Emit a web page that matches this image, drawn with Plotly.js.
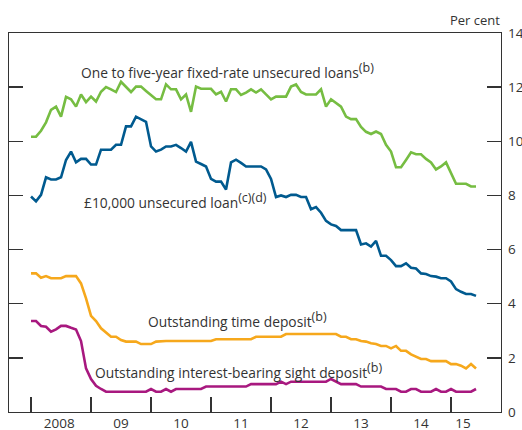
<!DOCTYPE html>
<html>
<head>
<meta charset="utf-8">
<script src="https://cdn.plot.ly/plotly-3.0.1.min.js"></script>
<style>html,body{margin:0;padding:0;background:#fff;}#chart{width:522px;height:430px;}</style>
</head>
<body>
<div id="chart"></div>
<script>
// Monthly observations, January 2008 to June 2015 (per cent)
var startYear = 2008;
var fixedRateLoans = [10.17,10.17,10.39,10.70,11.16,11.28,10.91,11.64,11.55,11.28,11.73,11.45,11.65,11.47,11.83,12.00,11.92,11.82,12.20,12.02,11.82,12.02,12.02,11.86,11.71,11.55,11.55,12.10,11.92,11.92,11.55,11.73,11.09,12.02,11.94,11.94,11.94,11.73,11.83,11.47,11.92,11.92,11.71,11.80,11.92,11.80,11.92,11.73,11.55,11.65,11.65,11.65,12.02,12.10,11.82,11.73,11.73,11.73,11.92,11.28,11.55,11.43,11.28,10.91,10.82,10.82,10.53,10.35,10.27,10.36,10.27,9.87,9.62,9.04,9.04,9.31,9.59,9.52,9.52,9.35,9.22,8.96,9.07,9.22,8.80,8.43,8.43,8.43,8.33,8.33];
var unsecuredLoan = [7.96,7.78,8.02,8.67,8.59,8.59,8.67,9.31,9.62,9.22,9.35,9.35,9.14,9.14,9.69,9.69,9.69,9.87,9.87,10.55,10.55,10.91,10.82,10.72,9.81,9.62,9.69,9.81,9.81,9.87,9.75,9.62,9.98,9.25,9.16,9.07,8.61,8.51,8.51,8.22,9.22,9.32,9.20,9.07,9.07,9.07,9.07,8.96,8.61,7.94,8.00,7.94,8.02,8.02,7.94,7.94,7.49,7.57,7.36,7.06,6.93,6.87,6.72,6.72,6.72,6.72,6.19,6.23,6.11,6.32,5.77,5.77,5.61,5.39,5.39,5.49,5.33,5.30,5.12,5.10,5.02,5.00,4.94,4.94,4.82,4.54,4.44,4.36,4.36,4.29];
var timeDeposit = [5.12,5.12,4.96,5.02,4.94,4.94,4.94,5.02,5.02,5.02,4.75,4.20,3.55,3.36,3.09,2.94,2.78,2.78,2.66,2.60,2.60,2.60,2.51,2.51,2.51,2.60,2.62,2.62,2.62,2.62,2.62,2.62,2.62,2.62,2.62,2.62,2.62,2.69,2.69,2.69,2.69,2.69,2.69,2.69,2.69,2.78,2.78,2.78,2.78,2.78,2.78,2.88,2.88,2.88,2.88,2.88,2.88,2.88,2.88,2.88,2.88,2.88,2.78,2.78,2.69,2.69,2.62,2.60,2.54,2.51,2.44,2.44,2.35,2.44,2.26,2.26,2.13,2.04,1.96,1.96,1.88,1.88,1.88,1.88,1.77,1.77,1.71,1.61,1.77,1.61];
var sightDeposit = [3.36,3.36,3.18,3.15,2.97,3.05,3.18,3.18,3.11,3.05,2.62,1.61,1.22,0.97,0.85,0.75,0.75,0.75,0.75,0.75,0.75,0.75,0.75,0.75,0.85,0.75,0.75,0.85,0.75,0.85,0.85,0.85,0.85,0.85,0.85,0.94,0.94,0.94,0.94,0.94,0.94,0.94,0.94,0.94,1.03,1.03,1.03,1.03,1.03,1.03,1.12,1.03,1.12,1.12,1.12,1.12,1.12,1.12,1.12,1.12,1.22,1.12,1.03,1.03,1.03,1.03,0.94,0.94,0.94,0.94,0.94,0.85,0.85,0.85,0.75,0.75,0.85,0.85,0.75,0.75,0.75,0.85,0.75,0.75,0.85,0.75,0.75,0.75,0.75,0.85];
var yearTicks = [2008,2009,2010,2011,2012,2013,2014,2015];
var yearLabelPos = [2008.47,2009.5,2010.5,2011.5,2012.5,2013.5,2014.5,2015.2];
var yearLabels = ['2008','09','10','11','12','13','14','15'];
var yTicks = [0,2,4,6,8,10,12,14];

var months = fixedRateLoans.map(function(_, i){ return startYear + i/12; });

var FONT = '"Open Sans", "Noto Sans", sans-serif';
var TXT = '#333333';
function sup(s){ return '<sup><span style="font-size:12.5px">' + s + '</span></sup>'; }
function line(y, color){
  return {x: months, y: y, type:'scatter', mode:'lines', hoverinfo:'skip',
          line:{color:color, width:2.6, shape:'linear'}, showlegend:false};
}
var traces = [
  line(fixedRateLoans, '#76bd42'),
  line(unsecuredLoan, '#005a8f'),
  line(timeDeposit, '#f6a81c'),
  line(sightDeposit, '#a8187f')
];
var xr = [2007.633, 2015.833];
var layout = {
  width:522, height:430,
  margin:{l:9, r:21, t:33, b:18, pad:0},
  paper_bgcolor:'#ffffff', plot_bgcolor:'#ffffff',
  font:{family:FONT, size:13.8, color:TXT},
  showlegend:false,
  xaxis:{range:xr, tickvals:yearTicks, showticklabels:false, ticks:'inside', ticklen:15, tickwidth:1.3, tickcolor:'#333',
         showline:true, linecolor:'#333', linewidth:1.3, mirror:true, showgrid:false, zeroline:false, fixedrange:true},
  xaxis2:{range:xr, overlaying:'x', side:'bottom', tickvals:yearLabelPos, ticktext:yearLabels, ticks:'', showline:false,
          showgrid:false, zeroline:false, ticklabelstandoff:1, tickfont:{family:FONT, size:13.5, color:TXT}, fixedrange:true},
  yaxis:{range:[0,14], side:'right', tickvals:yTicks, ticks:'inside', ticklen:14, tickwidth:1.3, tickcolor:'#333',
         showline:true, linecolor:'#333', linewidth:1.3, mirror:'ticks', showgrid:false, zeroline:false, ticklabelstandoff:3,
         tickfont:{family:FONT, size:13.5, color:TXT}, fixedrange:true},
  annotations:[
    {xref:'paper', yref:'paper', x:1.003, y:1.034, xanchor:'right', yanchor:'middle', showarrow:false, text:'Per cent', font:{family:FONT, size:13, color:TXT}},
    {xref:'x', yref:'y', x:2008.80, y:12.6, xanchor:'left', yanchor:'middle', showarrow:false, text:'One to five-year fixed-rate unsecured loans' + sup('(b)')},
    {xref:'x', yref:'y', x:2008.85, y:7.8, xanchor:'left', yanchor:'middle', showarrow:false, text:'£10,000 unsecured loan' + sup('(c)(d)')},
    {xref:'x', yref:'y', x:2009.92, y:3.43, xanchor:'left', yanchor:'middle', showarrow:false, text:'Outstanding time deposit' + sup('(b)')},
    {xref:'x', yref:'y', x:2009.03, y:1.54, xanchor:'left', yanchor:'middle', showarrow:false, text:'Outstanding interest-bearing sight deposit' + sup('(b)')}
  ]
};
// invisible trace on xaxis2 so that the label axis renders
traces.push({x:[xr[0]], y:[0], xaxis:'x2', type:'scatter', mode:'markers', marker:{opacity:0}, hoverinfo:'skip', showlegend:false});
Plotly.newPlot('chart', traces, layout, {staticPlot:true, displayModeBar:false});
</script>
</body>
</html>
